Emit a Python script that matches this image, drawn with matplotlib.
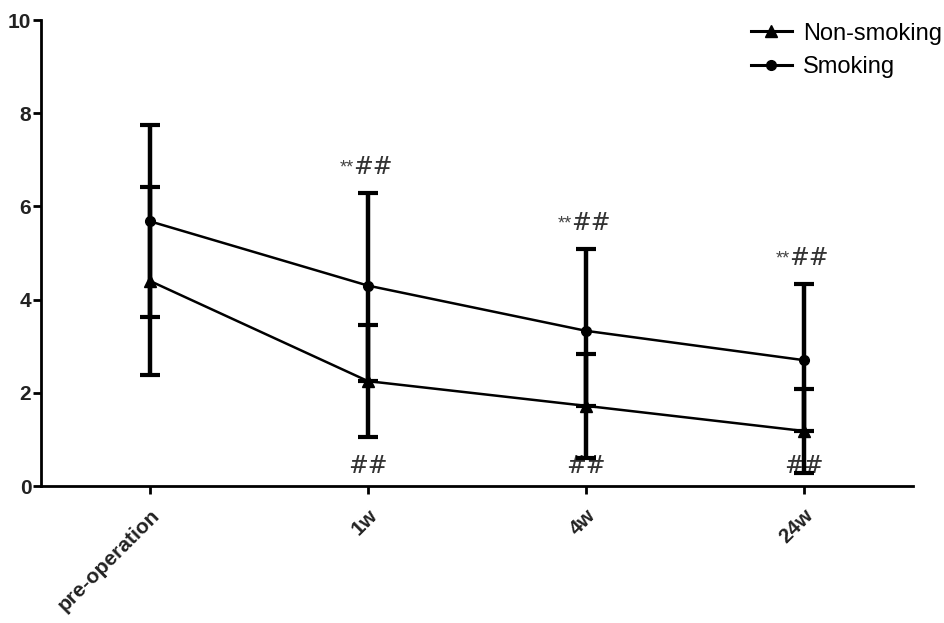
import matplotlib
matplotlib.use("Agg")
import matplotlib.pyplot as plt
from matplotlib.lines import Line2D
import numpy as np

plt.rcParams["font.family"] = ["Liberation Sans", "DejaVu Sans"]

# Data
timepoints = ["pre-operation", "1w", "4w", "24w"]
smoking_mean = [5.68, 4.30, 3.33, 2.70]
smoking_err_up = [2.07, 1.99, 1.76, 1.63]
smoking_err_low = [2.05, 2.05, 1.61, 1.52]
nonsmoking_mean = [4.40, 2.25, 1.72, 1.18]
nonsmoking_sd = [2.02, 1.20, 1.12, 0.90]
top_marks = ["", "**##", "**##", "**##"]
bottom_marks = ["", "##", "##", "##"]

fig = plt.figure(figsize=(9.45, 6.23), dpi=100)
ax = fig.add_axes([41 / 945, 137 / 623, 872 / 945, 466 / 623])

x = np.arange(len(timepoints))

ax.errorbar(x, smoking_mean, yerr=[smoking_err_low, smoking_err_up], color="black",
            marker="o", markersize=7, linewidth=1.8, elinewidth=3.2, capsize=7,
            capthick=3, zorder=3)
ax.errorbar(x, nonsmoking_mean, yerr=nonsmoking_sd, color="black", marker="^",
            markersize=8, linewidth=1.8, elinewidth=3.2, capsize=7, capthick=3,
            zorder=4)

# significance marks
for i in range(len(x)):
    if top_marks[i]:
        top = smoking_mean[i] + smoking_err_up[i]
        ax.annotate("**", xy=(x[i], top), xytext=(-10, 12), textcoords="offset points",
                    ha="right", va="bottom", fontsize=13, color="#444444")
        ax.annotate("##", xy=(x[i], top), xytext=(-11, 10), textcoords="offset points",
                    ha="left", va="bottom", fontsize=17, color="#333333",
                    family="DejaVu Serif")
    if bottom_marks[i]:
        ax.annotate(bottom_marks[i], xy=(x[i], 0), xytext=(0, 6), textcoords="offset points",
                    ha="center", va="bottom", fontsize=17, color="#333333",
                    family="DejaVu Serif")

ax.set_xlim(-0.5, 3.5)
ax.set_ylim(0, 10)
ax.set_yticks([0, 2, 4, 6, 8, 10])
ax.set_xticks(x)
ax.set_xticklabels(timepoints, rotation=45, ha="right", rotation_mode="anchor",
                   fontsize=15, fontweight="bold", color="#222222")
for lbl in ax.get_yticklabels():
    lbl.set_fontsize(15)
    lbl.set_fontweight("bold")
    lbl.set_color("#222222")

for side in ["top", "right"]:
    ax.spines[side].set_visible(False)
for side in ["left", "bottom"]:
    ax.spines[side].set_linewidth(2)
ax.tick_params(axis="y", direction="out", width=2, length=6, pad=1)
ax.tick_params(axis="x", direction="out", width=2, length=6, pad=8)

handles = [
    Line2D([], [], color="black", marker="^", markersize=8, linewidth=2.2),
    Line2D([], [], color="black", marker="o", markersize=7, linewidth=2.2),
]
ax.legend(handles, ["Non-smoking", "Smoking"], loc="upper right",
          bbox_to_anchor=(1.058, 1.04), frameon=False, fontsize=17,
          handlelength=1.7, labelspacing=0.5, handletextpad=0.5)

fig.savefig("out.png", dpi=100)
